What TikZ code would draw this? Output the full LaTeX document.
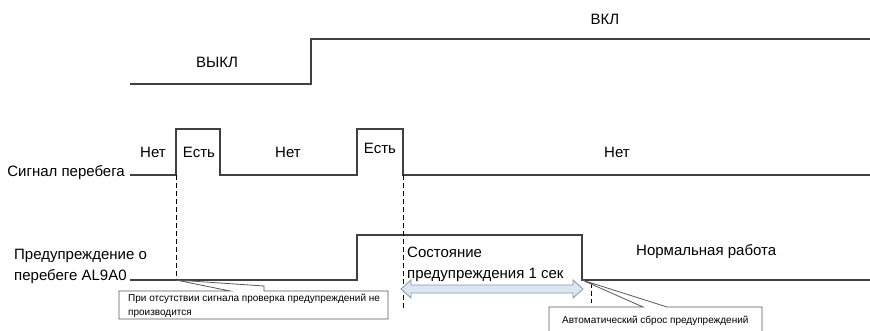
\documentclass[tikz,border=0pt]{standalone}
\usepackage{fontspec}
\setmainfont{Liberation Sans}
\usepackage{xcolor}
\usetikzlibrary{positioning}
\definecolor{wavegray}{HTML}{404040}
\definecolor{notegray}{HTML}{595959}
\definecolor{holdfill}{HTML}{DCE6F2}
\definecolor{holdline}{HTML}{8497B0}
\tikzset{
  wave/.style={draw=wavegray,line width=1.1pt},
  guide/.style={draw=black,dash pattern=on 5pt off 3pt,line width=0.7pt},
  lbl/.style={font=\fontsize{15}{21}\selectfont,inner sep=0pt,align=left},
  notebox/.style={draw=notegray,fill=white,line width=0.8pt,line join=miter},
  notetext/.style={font=\fontsize{10}{14}\selectfont,inner sep=0pt,align=left},
  holdarrow/.style={draw=holdline,fill=holdfill,line width=0.8pt},
}

\begin{document}
\begin{tikzpicture}[x=1pt,y=-1pt]
\useasboundingbox (0,0) rectangle (870,331);
\clip (0,0) rectangle (870,331);

% switch state
\node[lbl] (off) at (217,62) {ВЫКЛ};
\node[lbl] (on) at (605,19) {ВКЛ};
\coordinate (sw0) at (130,84);
\coordinate (sw1) at (311,39);
\coordinate (sw2) at (870,39);
\draw[wave] (sw0) -| (sw1) -- (sw2);

% overtravel signal
\node[lbl, anchor=east] (sig) at (125,173) {Сигнал перебега};
\node[lbl] (no1) at (153,152) {Нет};
\node[lbl] (yes1) at (199,152) {Есть};
\node[lbl] (no2) at (288,152) {Нет};
\node[lbl] (yes2) at (380,148) {Есть};
\node[lbl] (no3) at (617,152) {Нет};
\coordinate (s0) at (130,175);
\coordinate (s1) at (176,175);
\coordinate (s2) at (220,129);
\coordinate (s3) at (357,175);
\coordinate (s4) at (403,129);
\coordinate (s5) at (870,175);
\draw[wave] (s0) -- (s1) |- (s2) |- (s3) |- (s4) |- (s5);

% warning AL9A0
\node[lbl, anchor=west] (warn) at (14,266) {Предупреждение о\\перебеге AL9A0};
\node[lbl, anchor=west] (hold) at (407,264) {Состояние\\предупреждения 1 сек};
\node[lbl, anchor=west] (normal) at (636,252) {Нормальная работа};
\coordinate (w0) at (130,280);
\coordinate (w1) at (357,235);
\coordinate (w2) at (582,280);
\coordinate (w3) at (870,280);
\draw[wave] (w0) -| (w1) -| (w2) -- (w3);

% guides
\coordinate (g1) at (176,280);
\coordinate (g3) at (403,309);
\coordinate (g4a) at (591,283);
\coordinate (g4b) at (591,303);
\draw[guide] (s1) -- (g1);
\draw[guide] (s3) -- (w1 |- s3);
\draw[guide] (s4 |- s5) -- (g3);
\draw[guide] (g4a) -- (g4b);

% hold time arrow
\draw[holdarrow] (401,289) -- (411,280) -- (411,285) -- (573,285) -- (573,280)
  -- (583,289) -- (573,298) -- (573,293) -- (411,293) -- (411,298) -- cycle;

% callouts
\draw[notebox] (119,291) -- (230,291) -- (g1) -- (264,286) -- (264,291)
  -- (388,291) -- (388,319) -- (119,319) -- cycle;
\node[notetext, anchor=north west] (note1) at (128,294)
  {При отсутствии сигнала проверка предупреждений не\\производится};

\draw[notebox] (549,307) -- (643,307) -- (w2) -- (667,307) -- (762,307)
  -- (762,340) -- (549,340) -- cycle;
\node[notetext, anchor=base west] (note2) at (562,323)
  {Автоматический сброс предупреждений};
\end{tikzpicture}
\end{document}
